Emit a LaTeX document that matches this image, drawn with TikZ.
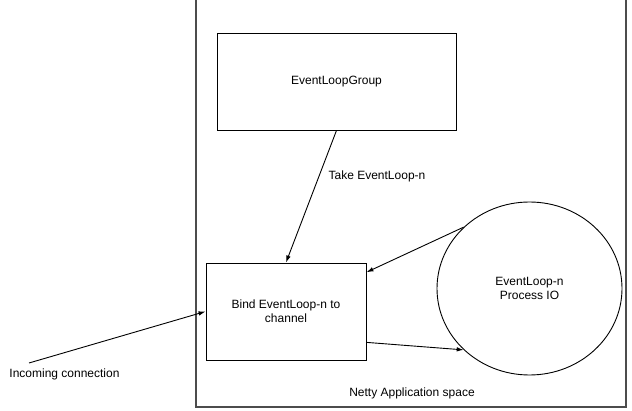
\documentclass[tikz,border=0pt]{standalone}
\usepackage{fontspec}
\setmainfont{Liberation Sans}
\usetikzlibrary{arrows.meta,shapes.geometric}

\begin{document}
\begin{tikzpicture}[x=1pt, y=-1pt,
		box/.style={draw, line width=0.9pt, inner sep=0pt, align=center},
		lbl/.style={inner sep=0pt, align=center},
		arr/.style={line width=0.9pt, -{Latex[length=7pt,width=4.5pt]}},
		font=\fontsize{12}{14}\selectfont]
		%%%%% START %%%%%
		\useasboundingbox (0, 0) rectangle (632, 411);
		
		\draw[line width=1.6pt, black!70] (196, -10) rectangle (626, 407);
		
		\node[box, minimum width=239pt, minimum height=97pt] (group) at (336.5, 81.5) {EventLoopGroup};
		\node[box, minimum width=160pt, minimum height=97pt] (bind) at (286, 311.5) {Bind EventLoop-n to\\channel};
		\node[box, ellipse, minimum width=185pt, minimum height=173pt] (loop) at (529.5, 288.5) {EventLoop-n\\Process IO};
		
		\node[lbl] (take) at (377, 176) {Take EventLoop-n};
		\node[lbl] (incoming) at (64.5, 374) {Incoming connection};
		\node[lbl] (space) at (412, 393) {Netty Application space};
		\coordinate (in) at (29, 363);
		
		\draw[arr] (group.south) -- (bind.north);
		\draw[arr] (loop.137.7) -- (bind.26);
		\draw[arr] (bind.-21.5) -- (loop.223.6);
		\draw[arr] (in) -- (bind.west);
		%%%%% END %%%%%
	\end{tikzpicture}
\end{document}
